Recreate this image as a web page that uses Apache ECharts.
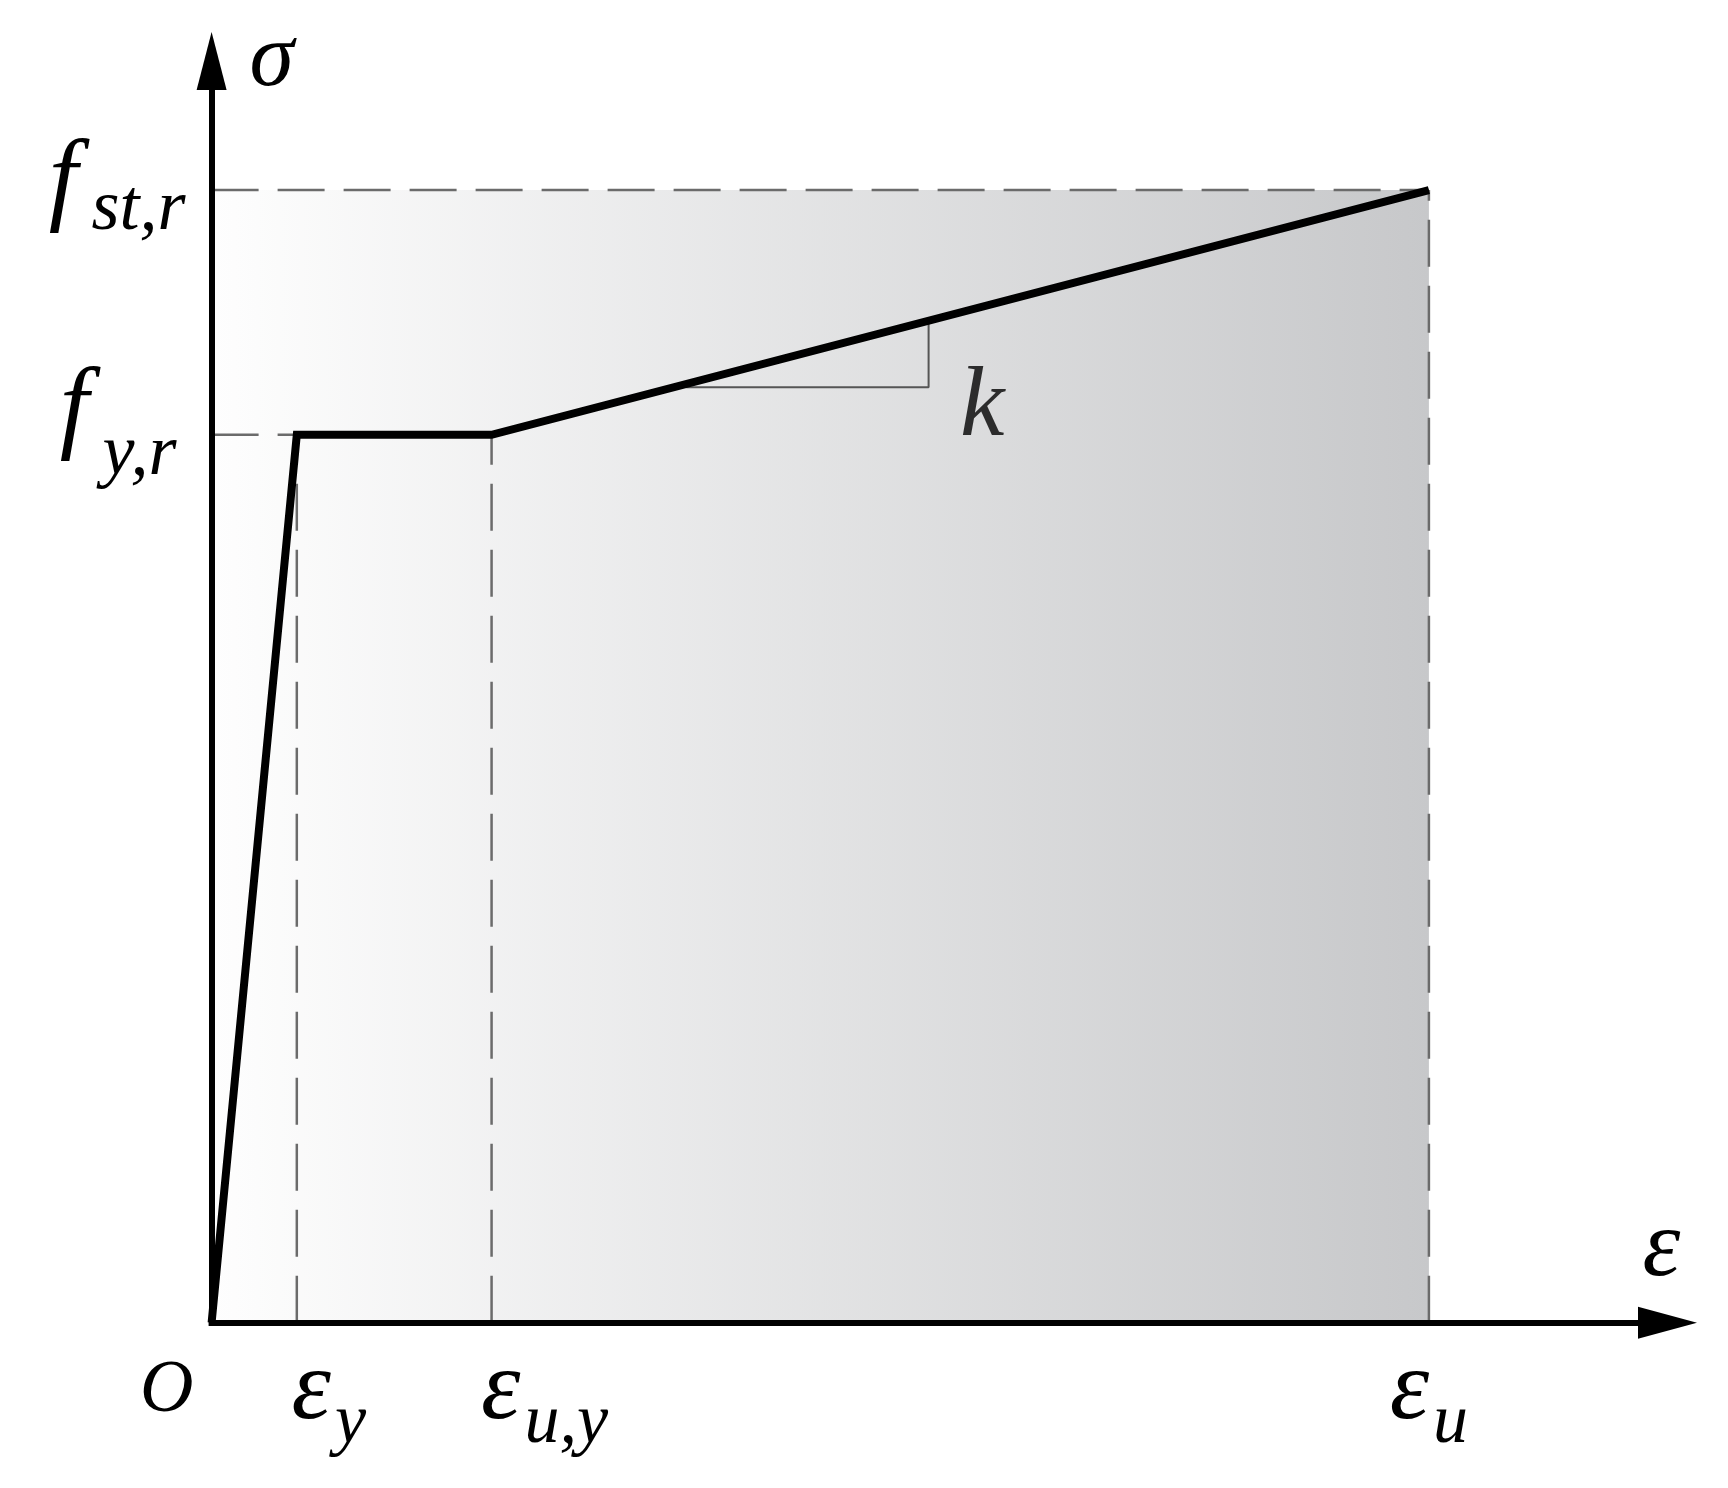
<!DOCTYPE html>
<html><head><meta charset="utf-8">
<script src="https://cdn.jsdelivr.net/npm/echarts@6/dist/echarts.min.js"></script>
<style>html,body{margin:0;padding:0;background:#fff}#c{width:1728px;height:1488px}</style>
</head><body><div id="c"></div>
<script>
// ---- data (normalised: εu = 1, fst,r = 1) ----
const strainNames = ['O', 'εy', 'εu,y', 'εu'];
const strainVals  = [0, 0.07, 0.23, 1.0];
const stressNames = ['fy,r', 'fst,r'];
const stressVals  = [0.784, 1.0];
const curveX = [0, 0.07, 0.23, 1.0];
const curveY = [0, 0.784, 0.784, 1.0];
const slopeX = [0.39, 0.589, 0.589];
const slopeY = [0.826, 0.826, 0.885];
const kPos = [0.633, 0.807];
const xMax = 1.196, yMax = 1.114;

const FONT = '"Liberation Serif", "Times New Roman", serif';
const zip = (a, b) => a.map((v, i) => [v, b[i]]);
const eU = strainVals[3], eY = strainVals[1], eUY = strainVals[2];
const fY = stressVals[0], fST = stressVals[1];

const dashStyle = { color: '#6b6b6b', width: 2.5, type: [47, 19] };
function dashed(data) {
  return { type: 'line', data: data, symbol: 'none', silent: true, z: 3,
           lineStyle: dashStyle, animation: false };
}
function nearest(arr, v) {
  let bi = 0; arr.forEach((a, i) => { if (Math.abs(a - v) < Math.abs(arr[bi] - v)) bi = i; }); return bi;
}
const xLabelFmt = ['{o|O}', '{e1|ε}{s|y}', '{e2|ε}{s|u,y}', '{e3|ε}{s|u}'];
const yLabelFmt = ['{f2|f}{s2|y,r}', '{f1|f}{s1|st,r}'];

const base = { fontFamily: FONT, fontStyle: 'italic', color: '#000' };
const st = o => Object.assign({}, base, o);
const chart = echarts.init(document.getElementById('c'));
chart.setOption({
  animation: false,
  backgroundColor: '#fff',
  grid: { left: 211.6, right: 60.5, top: 61, bottom: 165.3 },
  xAxis: {
    type: 'value', min: 0, max: xMax, z: 10,
    name: 'ε', nameLocation: 'end', nameGap: 0,
    nameTextStyle: st({ fontSize: 96, align: 'center', verticalAlign: 'bottom', padding: [0, 12, 25, 0] }),
    axisLine: { show: true, onZero: false, symbol: ['none', 'triangle'], symbolSize: [32, 59],
                lineStyle: { color: '#000', width: 6, cap: 'square' } },
    axisTick: { show: false },
    splitLine: { show: false },
    axisLabel: {
      show: true, customValues: strainVals, margin: 2,
      formatter: v => xLabelFmt[nearest(strainVals, v)],
      rich: {
        o: st({ fontSize: 74, padding: [30, 90, 0, 0] }),
        e1: st({ fontSize: 100, padding: [0, 0, 0, 64] }),
        e2: st({ fontSize: 100, padding: [0, 0, 0, 106] }),
        e3: st({ fontSize: 100 }),
        s: st({ fontSize: 70, padding: [64, 0, 0, 4] })
      }
    }
  },
  yAxis: {
    type: 'value', min: 0, max: yMax, z: 10,
    name: 'σ', nameLocation: 'end', nameGap: 0,
    nameTextStyle: st({ fontSize: 90, align: 'left', verticalAlign: 'middle', padding: [0, 0, 16, 38] }),
    axisLine: { show: true, onZero: false, symbol: ['none', 'triangle'], symbolSize: [30, 58],
                lineStyle: { color: '#000', width: 6, cap: 'square' } },
    axisTick: { show: false },
    splitLine: { show: false },
    axisLabel: {
      show: true, customValues: stressVals, margin: 26,
      formatter: v => yLabelFmt[nearest(stressVals, v)],
      rich: {
        f1: st({ fontSize: 104, padding: [0, 14, 12, 0] }),
        f2: st({ fontSize: 104, padding: [0, 14, 46, 0] }),
        s1: st({ fontSize: 72, padding: [40, 0, 0, 0] }),
        s2: st({ fontSize: 72, padding: [40, 9, 0, 0] })
      }
    }
  },
  series: [
    { type: 'line', data: [[0, fST], [eU, fST]], symbol: 'none', silent: true, z: 1,
      lineStyle: { width: 0 },
      areaStyle: { opacity: 1, origin: 'start', color: { type: 'linear', x: 0, y: 0, x2: 1, y2: 0,
        colorStops: [{ offset: 0, color: '#fefefe' }, { offset: 1, color: '#c7c8ca' }] } } },
    dashed([[0, fST], [eU, fST]]),
    dashed([[0, fY], [eY, fY]]),
    dashed([[eY, 0], [eY, fY]]),
    dashed([[eUY, 0], [eUY, fY]]),
    dashed([[eU, 0], [eU, fST]]),
    { type: 'line', data: zip(slopeX, slopeY), symbol: 'none', silent: true, z: 4,
      lineStyle: { color: '#555', width: 2 } },
    { type: 'line', data: zip(curveX, curveY), symbol: 'none', silent: true, z: 5,
      lineStyle: { color: '#000', width: 8, join: 'miter' } },
    { type: 'scatter', data: [kPos], symbolSize: 0, silent: true, z: 6,
      label: st({ show: true, position: 'inside', formatter: 'k', fontSize: 100 }) }
  ]
});
</script></body></html>
